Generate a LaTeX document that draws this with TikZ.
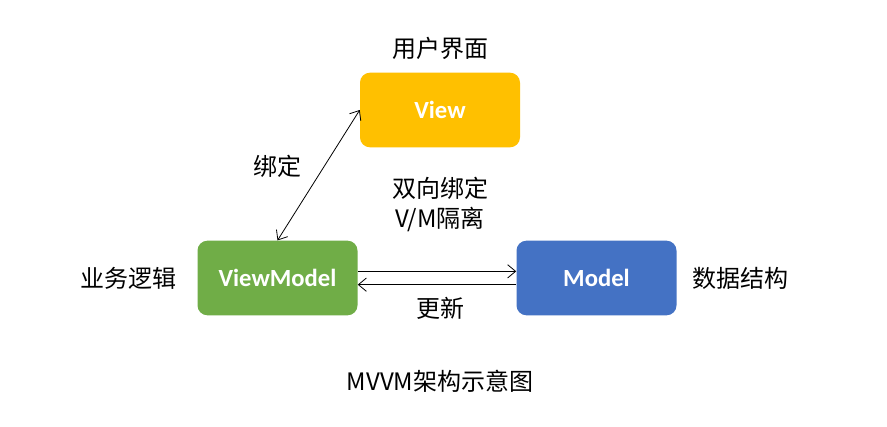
\documentclass[tikz,border=0pt]{standalone}
\usepackage{fontspec}
\setmainfont{Carlito}
\newfontfamily\cjk{Noto Sans CJK SC}
\usetikzlibrary{arrows.meta}
\usetikzlibrary{positioning}

\definecolor{viewc}{HTML}{FFC000}
\definecolor{vmc}{HTML}{70AD47}
\definecolor{modelc}{HTML}{4472C4}

\tikzset{
  box/.style={rectangle,rounded corners=7.5pt,minimum width=120pt,minimum height=56pt,
    draw=none,text=white,font=\bfseries\fontsize{18.5}{20}\selectfont},
  lbl/.style={font=\cjk\fontsize{18}{22.5}\selectfont,text=black,align=center},
  link/.style={black,line width=0.6pt,arrows={-Straight Barb[length=6pt,width=10pt]}}
}

\begin{document}
\begin{tikzpicture}[x=0.75pt,y=-0.75pt]
\useasboundingbox[fill=white] (0,0) rectangle (887,427);

\node[box,fill=viewc] (view) at (440,110) {View};
\node[box,fill=vmc] (vm) at (277.5,278) {ViewModel};
\node[box,fill=modelc] (model) at (596.5,278) {Model};

\node[lbl] (ui) at (440,48) {用户界面};
\node[lbl] (bind) at (277,166) {绑定};
\node[lbl] (twoway) at (440,204) {双向绑定\\V/M隔离};
\node[lbl] (logic) at (128,278) {业务逻辑};
\node[lbl] (data) at (740,278) {数据结构};
\node[lbl] (update) at (440,308) {更新};
\node[lbl] (title) at (440,381) {MVVM架构示意图};

\draw[link,arrows={Straight Barb[length=6pt,width=10pt]-Straight Barb[length=6pt,width=10pt]}] (vm.north) -- (view.west);
\draw[link] ([yshift=5pt]vm.east) -- ([yshift=5pt]model.west);
\draw[link] ([yshift=-5pt]model.west) -- ([yshift=-5pt]vm.east);

\end{tikzpicture}
\end{document}
